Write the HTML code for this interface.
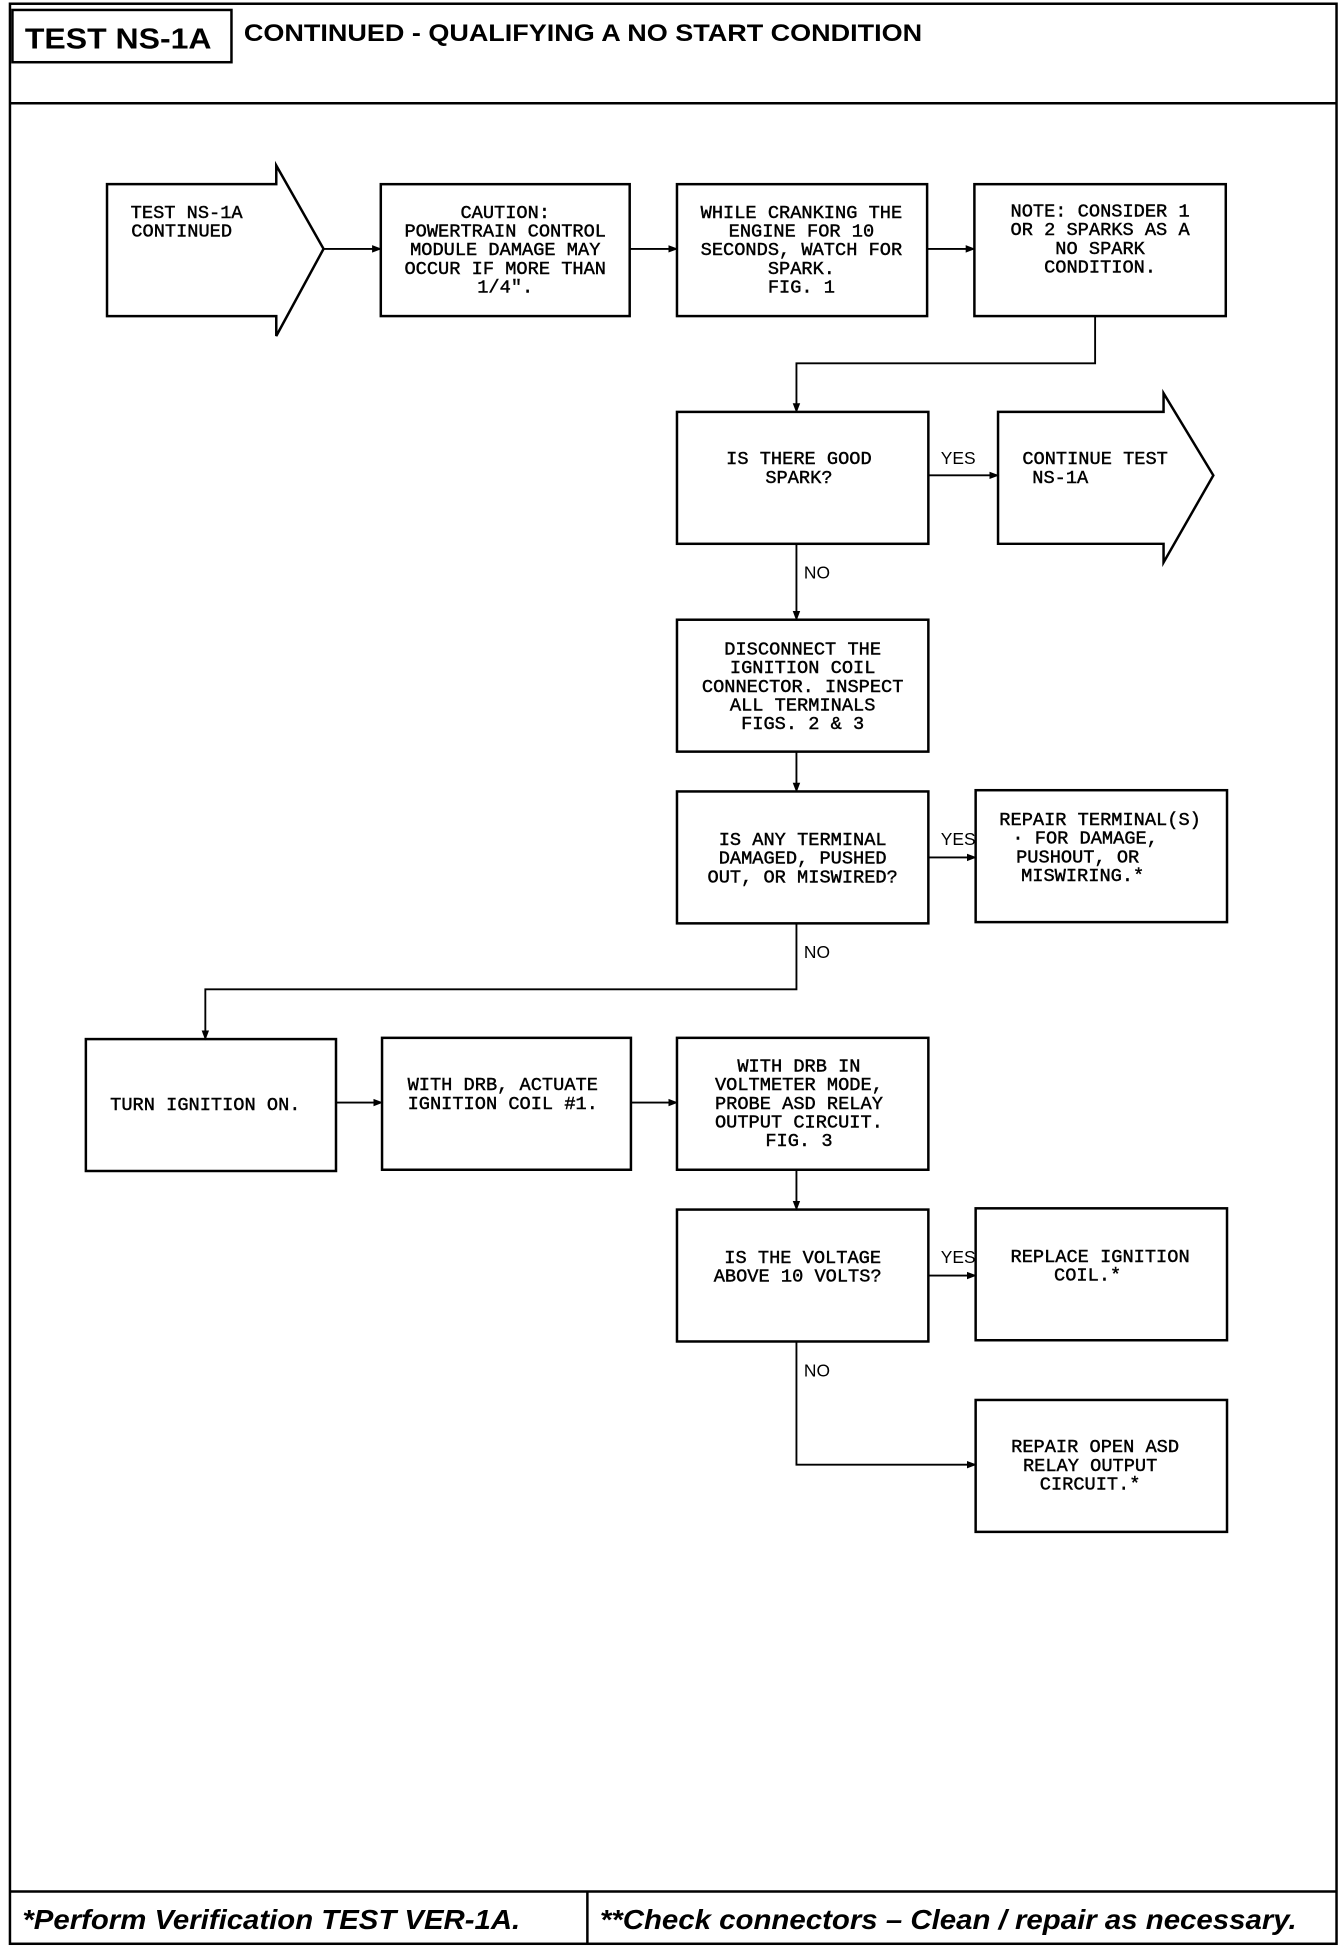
<!DOCTYPE html>
<html><head><meta charset="utf-8"><style>
html,body{margin:0;padding:0;background:#fff;width:1344px;height:1950px;overflow:hidden}
svg{display:block}
.t{font-family:"Liberation Mono",monospace;font-size:15px;fill:#000;text-anchor:middle;stroke:#000;stroke-width:0.35}
.l{font-family:"Liberation Sans",sans-serif;font-size:14px;fill:#000}
</style></head><body>
<svg width="1344" height="1950" viewBox="0 0 1080 1567" preserveAspectRatio="none" xmlns="http://www.w3.org/2000/svg">
<defs><marker id="a" markerWidth="8" markerHeight="8" refX="7" refY="4" orient="auto" markerUnits="userSpaceOnUse"><path d="M0,1 L8,4 L0,7 z" fill="#000"/></marker></defs>
<g fill="none" stroke="#000" stroke-width="2">
<rect x="8" y="3" width="1066" height="1559"/>
<line x1="8" y1="83" x2="1074" y2="83"/>
<rect x="10" y="8" width="176" height="42"/>
<line x1="8" y1="1520" x2="1074" y2="1520"/>
<line x1="472" y1="1520" x2="472" y2="1562"/>
<path d="M86,148 H222 V133 L260,200 L222,270 V254 H86 Z"/>
<rect x="306" y="148" width="200" height="106"/>
<rect x="544" y="148" width="201" height="106"/>
<rect x="783" y="148" width="202" height="106"/>
<rect x="544" y="331" width="202" height="106"/>
<path d="M802,331 H935 V316 L975,382 L935,452 V437 H802 Z"/>
<rect x="544" y="498" width="202" height="106"/>
<rect x="544" y="636" width="202" height="106"/>
<rect x="784" y="635" width="202" height="106"/>
<rect x="69" y="835" width="201" height="106"/>
<rect x="307" y="834" width="200" height="106"/>
<rect x="544" y="834" width="202" height="106"/>
<rect x="544" y="972" width="202" height="106"/>
<rect x="784" y="971" width="202" height="106"/>
<rect x="784" y="1125" width="202" height="106"/>
</g>
<g fill="none" stroke="#000" stroke-width="1.5" marker-end="url(#a)">
<line x1="260" y1="200" x2="306" y2="200"/>
<line x1="506" y1="200" x2="544" y2="200"/>
<line x1="745" y1="200" x2="783" y2="200"/>
<path d="M880,254 V292 H640 V331"/>
<line x1="746" y1="382" x2="802" y2="382"/>
<line x1="640" y1="437" x2="640" y2="498"/>
<line x1="640" y1="604" x2="640" y2="636"/>
<line x1="746" y1="689" x2="784" y2="689"/>
<path d="M640,742 V795 H165 V835"/>
<line x1="270" y1="886" x2="307" y2="886"/>
<line x1="507" y1="886" x2="544" y2="886"/>
<line x1="640" y1="940" x2="640" y2="972"/>
<line x1="746" y1="1025" x2="784" y2="1025"/>
<path d="M640,1078 V1177 H784"/>
</g>
<text x="20" y="39" textLength="150" lengthAdjust="spacingAndGlyphs" style="font-family:'Liberation Sans',sans-serif;font-weight:bold;font-size:23px">TEST NS-1A</text>
<text x="196" y="33" textLength="545" lengthAdjust="spacingAndGlyphs" style="font-family:'Liberation Sans',sans-serif;font-weight:bold;font-size:19px">CONTINUED -  QUALIFYING A NO START CONDITION</text>
<text x="18" y="1550" textLength="400" lengthAdjust="spacingAndGlyphs" style="font-family:'Liberation Sans',sans-serif;font-weight:bold;font-style:italic;font-size:22px">*Perform Verification TEST VER-1A.</text>
<text x="482" y="1550" textLength="560" lengthAdjust="spacingAndGlyphs" style="font-family:'Liberation Sans',sans-serif;font-weight:bold;font-style:italic;font-size:22px">**Check connectors – Clean / repair as necessary.</text>
<g class="t">
<text x="150" y="175">TEST NS-1A</text><text x="146" y="190">CONTINUED</text>
<text x="406" y="175">CAUTION:</text><text x="406" y="190">POWERTRAIN CONTROL</text><text x="406" y="205">MODULE DAMAGE MAY</text><text x="406" y="220">OCCUR IF MORE THAN</text><text x="406" y="235">1/4".</text>
<text x="644" y="175">WHILE CRANKING THE</text><text x="644" y="190">ENGINE FOR 10</text><text x="644" y="205">SECONDS, WATCH FOR</text><text x="644" y="220">SPARK.</text><text x="644" y="235">FIG. 1</text>
<text x="884" y="174">NOTE: CONSIDER 1</text><text x="884" y="189">OR 2 SPARKS AS A</text><text x="884" y="204">NO SPARK</text><text x="884" y="219">CONDITION.</text>
<text x="642" y="373">IS THERE GOOD</text><text x="642" y="388">SPARK?</text>
<text x="880" y="373">CONTINUE TEST</text><text x="852" y="388">NS-1A</text>
<text x="645" y="526">DISCONNECT THE</text><text x="645" y="541">IGNITION COIL</text><text x="645" y="556">CONNECTOR. INSPECT</text><text x="645" y="571">ALL TERMINALS</text><text x="645" y="586">FIGS. 2 &amp; 3</text>
<text x="645" y="679">IS ANY TERMINAL</text><text x="645" y="694">DAMAGED, PUSHED</text><text x="645" y="709">OUT, OR MISWIRED?</text>
<text x="884" y="663">REPAIR TERMINAL(S)</text><text x="872" y="678">· FOR DAMAGE,</text><text x="866" y="693">PUSHOUT, OR</text><text x="870" y="708">MISWIRING.*</text>
<text x="165" y="892">TURN IGNITION ON.</text>
<text x="404" y="876">WITH DRB, ACTUATE</text><text x="404" y="891">IGNITION COIL #1.</text>
<text x="642" y="861">WITH DRB IN</text><text x="642" y="876">VOLTMETER MODE,</text><text x="642" y="891">PROBE ASD RELAY</text><text x="642" y="906">OUTPUT CIRCUIT.</text><text x="642" y="921">FIG. 3</text>
<text x="645" y="1015">IS THE VOLTAGE</text><text x="641" y="1030">ABOVE 10 VOLTS?</text>
<text x="884" y="1014">REPLACE IGNITION</text><text x="874" y="1029">COIL.*</text>
<text x="880" y="1167">REPAIR OPEN ASD</text><text x="876" y="1182">RELAY OUTPUT</text><text x="876" y="1197">CIRCUIT.*</text>
</g>
<g class="l">
<text x="756" y="373">YES</text><text x="646" y="465">NO</text>
<text x="756" y="679">YES</text><text x="646" y="770">NO</text>
<text x="756" y="1015">YES</text><text x="646" y="1106">NO</text>
</g>
</svg>
</body></html>
